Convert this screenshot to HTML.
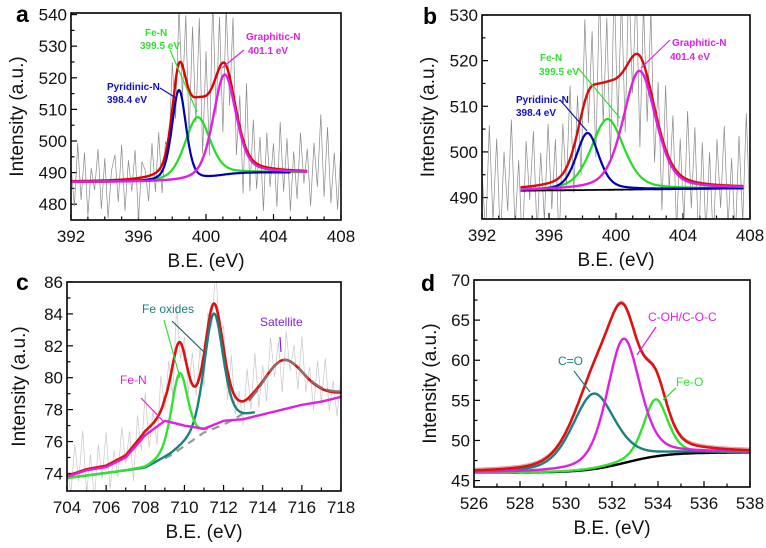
<!DOCTYPE html>
<html><head><meta charset="utf-8"><style>
body{margin:0;background:#fff}
svg{display:block;font-family:"Liberation Sans",Arial,sans-serif}
</style></head><body>
<svg id="fig" width="766" height="548" viewBox="0 0 766 548" xmlns="http://www.w3.org/2000/svg"></svg>
<script>
// ---------- data ----------
// panel a (N1s)
const aCenters=[398.4,399.5,401.1];
const aHeights=[29,20,32];
const aWidths=[1.0,1.8,1.6];
const aBase=[487,490];
const aResid=[5,-8,12,-6,9,-11,4,-3,10,-9,7,-12,3,8,-7,11,-10,6,-4,9,-13,5,2,-8,10,-6,12,-9,4,-5,15,-12,18,-10,20,-15,22,-8,25,-18,14,-20,28,-12,16,-22,19,-9,24,-14,10,-17,21,-11,13,-8,9,-14,11,-6,8,-12,15,-7,10,-13,6,-9,12,-4,7,-11,9,-5,18,-8,14,-10,6,-12,8];
// panel b (N1s)
const bCenters=[398.3,399.5,401.4];
const bHeights=[12.5,15.5,26];
const bWidths=[1.6,2.3,2.3];
const bBase=[491.5,492];
const bResid=[4,-10,14,-7,11,-12,8,-5,15,-9,6,-14,10,-3,12,-11,7,-8,13,-6,9,-15,11,-4,16,-10,8,-13,18,-7,12,-16,20,-9,14,-18,22,-11,17,-14,19,-8,15,-20,13,-10,18,-12,9,-16,14,-7,11,-13,8,-10,15,-6,12,-14,9,-11,7,-13,10,-5,13,-9,6,-12,11,-8,16,-7];
// panel c (Fe2p)
const cBaseX=[704,706,708,709.3,711,713.5,718];
const cBaseY=[73.7,74.0,74.3,75.1,76.5,77.6,78.8];
const cFeNX=[704,705,706,707,708,709,710,711,712,713,714,715,716,717,718];
const cFeNY=[73.8,74.2,74.4,75.0,76.4,77.3,77.0,76.8,77.3,77.4,77.7,78.0,78.3,78.5,78.8];
const cCenters=[709.75,711.5];
const cHeights=[4.8,7.3];
const cWidths=[1.0,1.15];
const cSat=[715.05,3.0,2.6];
const cResid=[0.5,-1.2,1.8,-0.6,2.5,-1.5,0.9,-2.0,1.4,-0.8,2.1,-1.6,0.7,-1.1,1.9,-0.5,1.2,-2.2,1.6,-0.9,2.4,-1.3,0.8,-1.7,2.2,-0.7,1.5,-1.9,2.6,-1.0,1.1,-1.4,2.0,-0.6,1.7,-2.1,0.9,-1.2,2.3,-0.8,1.4,-1.8,2.0,-1.1,0.6,-1.5,1.9,-0.9,2.4,-1.3,1.0,-1.6,2.1,-0.7,1.3,-2.0,1.8,-0.6,1.2,-1.4,2.2,-1.0,0.8,-1.7,1.6,-0.9,2.0,-1.2,0.7,-1.5,1.1];
// panel d (O1s)
const dCenters=[531.2,532.5,533.9];
const dHeights=[9.4,15.5,7.1];
const dWidths=[2.2,1.7,1.25];
const dBase=[46.0,48.5];

// ---------- helpers ----------
const svg=document.getElementById('fig');
const NS='http://www.w3.org/2000/svg';
function mk(tag,attrs,parent){const e=document.createElementNS(NS,tag);for(const k in attrs)e.setAttribute(k,attrs[k]);(parent||svg).appendChild(e);return e;}
function pv(x,c,h,w){const t=(x-c)/w;return h*(0.6*Math.exp(-4*Math.LN2*t*t)+0.4/(1+4*t*t));}
function sig(x,lo,hi,c,s){return lo+(hi-lo)/(1+Math.exp(-(x-c)/s));}
function interp(x,xs,ys){if(x<=xs[0])return ys[0];for(let i=1;i<xs.length;i++){if(x<=xs[i]){const f=(x-xs[i-1])/(xs[i]-xs[i-1]);return ys[i-1]+f*(ys[i]-ys[i-1]);}}return ys[ys.length-1];}
function makeAxes(p){p.sx=v=>p.x0+(v-p.xmin)/(p.xmax-p.xmin)*(p.x1-p.x0);p.sy=v=>p.y1-(v-p.ymin)/(p.ymax-p.ymin)*(p.y1-p.y0);}
function path(p,f,a,b,color,w,name,step){let d='';const st=step||(b-a)/300;for(let x=a;x<=b+1e-9;x+=st){d+=(d?'L':'M')+p.sx(x).toFixed(1)+','+p.sy(f(x)).toFixed(1);}
 const e=mk('path',{d:d,fill:'none',stroke:color,'stroke-width':w,'stroke-linejoin':'round','clip-path':'url(#'+p.clip+')'},p.g);
 
 return e;}
function noise(p,f,res,a,b,color,name){let d='';const n=res.length;for(let i=0;i<n;i++){const x=a+(b-a)*i/(n-1);d+=(i?'L':'M')+p.sx(x).toFixed(1)+','+p.sy(f(x)+res[i]*p.nscale).toFixed(1);}
 const e=mk('path',{d:d,fill:'none',stroke:color,'stroke-width':0.7,'clip-path':'url(#'+p.clip+')'},p.g);
 
 }
function frame(p){
 const defs=mk('defs',{});const cp=mk('clipPath',{id:p.clip},defs);mk('rect',{x:p.x0,y:p.y0,width:p.x1-p.x0,height:p.y1-p.y0},cp);
 p.g=mk('g',{});
 
 
 const ax=mk('g',{},p.g);
 
 
 for(let v=p.xmin;v<=p.xmax+1e-9;v+=p.xminor){const X=p.sx(v);const major=Math.abs(((v-p.xmin)/p.xmajor)-Math.round((v-p.xmin)/p.xmajor))<1e-6;
  mk('line',{x1:X,x2:X,y1:p.y1,y2:p.y1-(major?6:3.5),stroke:'#000','stroke-width':1.2},ax);
  if(major){const t=mk('text',{x:X,y:p.y1+22,'font-size':17,'text-anchor':'middle',fill:'#111'},ax);t.textContent=Math.round(v);
   
   }}
 for(let v=p.ytick0;v<=p.ymax+1e-9;v+=p.yminor){const Y=p.sy(v);const major=Math.abs(((v-p.ytick0)/p.ymajor)-Math.round((v-p.ytick0)/p.ymajor))<1e-6;
  mk('line',{x1:p.x0,x2:p.x0+(major?6:3.5),y1:Y,y2:Y,stroke:'#000','stroke-width':1.2},ax);
  if(major){const t=mk('text',{x:p.x0-4,y:Y+6,'font-size':17,'text-anchor':'end',fill:'#111'},ax);t.textContent=Math.round(v);
   
   }}
 const xt=mk('text',{x:(p.x0+p.x1)/2,y:p.y1+47,'font-size':19,'text-anchor':'middle',fill:'#111'},ax);xt.textContent='B.E. (eV)';
 
 
 const yt=mk('text',{x:0,y:0,'font-size':19,'text-anchor':'middle',fill:'#111',transform:'translate('+(p.x0-p.ytoff)+','+((p.y0+p.y1)/2)+') rotate(-90)'},ax);yt.textContent='Intensity (a.u.)';
 
 
 const lt=mk('text',{x:p.lx,y:p.ly,'font-size':23,'font-weight':'bold',fill:'#000'},ax);lt.textContent=p.letter;
 
 
}
function box(p){const r=mk('rect',{x:p.x0,y:p.y0,width:p.x1-p.x0,height:p.y1-p.y0,fill:'none',stroke:'#000','stroke-width':1.6},p.g);
 
 }
function label(p,x,y,txt,color,size,bold,name){const t=mk('text',{x:x,y:y,'font-size':size,'font-weight':bold?'bold':'normal',fill:color},p.g);t.textContent=txt;
 
 }
function leader(p,x1,y1,x2,y2,color,name){const l=mk('line',{x1:x1,y1:y1,x2:x2,y2:y2,stroke:color,'stroke-width':1.2},p.g);
 
 }

// ---------- panel a ----------
const A={name:'panel-a',letter:'a',clip:'ca',x0:71,x1:341,y0:13,y1:220,xmin:392,xmax:408,ymin:475,ymax:540.5,xmajor:4,xminor:1,ytick0:480,ymajor:10,yminor:5,ytoff:48,lx:16,ly:22,nscale:1};
makeAxes(A);frame(A);
{const base=x=>sig(x,aBase[0],aBase[1],400.6,0.7);
 const comp=i=>x=>base(x)+pv(x,aCenters[i],aHeights[i],aWidths[i]);
 const sum=x=>base(x)+aCenters.reduce((s,c,i)=>s+pv(x,c,aHeights[i],aWidths[i]),0);
 noise(A,sum,aResid,392,408,'#8a8a8a','raw-data-a');
 path(A,sum,392,406,'#e00000',2.4,'fit-envelope-a');
 path(A,comp(1),392,406,'#22dd22',2.2,'fe-n-peak-a');
 path(A,comp(0),392,405,'#0000b0',2.2,'pyridinic-n-peak-a');
 path(A,comp(2),392,406,'#e020e0',2.4,'graphitic-n-peak-a');
 label(A,145,36,'Fe-N','#33dd33',10,true,'fe-n-label-a');
 label(A,140,49,'399.5 eV','#33dd33',10,true,'fe-n-energy-a');
 leader(A,170,50,197,112,'#33dd33','fe-n-leader-a');
 label(A,246,40,'Graphitic-N','#e020e0',10,true,'graphitic-n-label-a');
 label(A,248,54,'401.1 eV','#e020e0',10,true,'graphitic-n-energy-a');
 leader(A,244,50,222,68,'#e020e0','graphitic-n-leader-a');
 label(A,107,90,'Pyridinic-N','#1010c0',10,true,'pyridinic-n-label-a');
 label(A,107,103,'398.4 eV','#1010c0',10,true,'pyridinic-n-energy-a');
 leader(A,160,88,176,98,'#1010c0','pyridinic-n-leader-a');}
box(A);

// ---------- panel b ----------
const B={name:'panel-b',letter:'b',clip:'cb',x0:482,x1:750,y0:15,y1:219,xmin:392,xmax:408,ymin:485.3,ymax:530,xmajor:4,xminor:1,ytick0:490,ymajor:10,yminor:5,ytoff:48,lx:423,ly:24,nscale:1};
makeAxes(B);frame(B);
{const base=x=>bBase[0]+(bBase[1]-bBase[0])*(x-394.3)/13.3;
 const comp=i=>x=>base(x)+pv(x,bCenters[i],bHeights[i],bWidths[i]);
 const sum=x=>base(x)+bCenters.reduce((s,c,i)=>s+pv(x,c,bHeights[i],bWidths[i]),0);
 noise(B,sum,bResid,392,408,'#8a8a8a','raw-data-b');
 path(B,base,394.3,407.6,'#000',1.8,'baseline-b');
 path(B,sum,394.3,407.6,'#d01010',2.4,'fit-envelope-b');
 path(B,comp(1),394.3,407.6,'#22dd22',2.2,'fe-n-peak-b');
 path(B,comp(0),394.3,407.6,'#0000b0',2.2,'pyridinic-n-peak-b');
 path(B,comp(2),394.3,407.6,'#e020e0',2.4,'graphitic-n-peak-b');
 label(B,540,61,'Fe-N','#33dd33',10,true,'fe-n-label-b');
 label(B,539,75,'399.5 eV','#33dd33',10,true,'fe-n-energy-b');
 leader(B,578,68,620,118,'#33dd33','fe-n-leader-b');
 label(B,672,46,'Graphitic-N','#e020e0',10,true,'graphitic-n-label-b');
 label(B,670,60,'401.4 eV','#e020e0',10,true,'graphitic-n-energy-b');
 leader(B,670,40,641,68,'#e020e0','graphitic-n-leader-b');
 label(B,516,103,'Pyridinic-N','#1010c0',10,true,'pyridinic-n-label-b');
 label(B,516,116,'398.4 eV','#1010c0',10,true,'pyridinic-n-energy-b');
 leader(B,560,100,587,131,'#1010c0','pyridinic-n-leader-b');}
box(B);

// ---------- panel c ----------
const C={name:'panel-c',letter:'c',clip:'cc',x0:67,x1:341,y0:282,y1:491,xmin:704,xmax:718,ymin:72.9,ymax:86,xmajor:2,xminor:1,ytick0:74,ymajor:2,yminor:1,ytoff:42,lx:16,ly:290,nscale:1};
makeAxes(C);frame(C);
{const low=x=>interp(x,cBaseX,cBaseY);
 const fen=x=>interp(x,cFeNX,cFeNY);
 const comp=i=>x=>low(x)+pv(x,cCenters[i],cHeights[i],cWidths[i]);
 const sat=x=>pv(x,cSat[0],cSat[1],cSat[2]);
 const sum=x=>Math.max(fen(x),low(x))+cCenters.reduce((s,c,i)=>s+pv(x,c,cHeights[i],cWidths[i]),0)+sat(x);
 noise(C,sum,cResid,704,718,'#c8c8c8','raw-data-c');
 path(C,x=>low(x)+sat(x)*0.6,709,713,'#999',2.2,'background-dashed-c').setAttribute('stroke-dasharray','8 6');
 path(C,sum,704,718,'#e01010',2.6,'fit-envelope-c');
 path(C,x=>low(x)+sat(x)+0.1,713.3,718,'#8a7070',2.2,'satellite-peak-c').setAttribute('stroke-dasharray','14 4');
 path(C,comp(1),704,713.6,'#1a8080',2.4,'fe-oxide-peak-2-c');
 path(C,comp(0),704,711.2,'#33e033',2.4,'fe-oxide-peak-1-c');
 path(C,fen,704,718,'#e020e0',2.4,'fe-n-component-c');
 label(C,142,313,'Fe oxides','#1a8080',12,false,'fe-oxides-label-c');
 leader(C,172,321,204,352,'#1a6060','fe-oxides-leader-teal-c');
 leader(C,164,320,180,378,'#33dd33','fe-oxides-leader-green-c');
 label(C,260,326,'Satellite','#8020e0',12,false,'satellite-label-c');
 leader(C,280,337,281,352,'#8020e0','satellite-arrow-c');
 label(C,120,384,'Fe-N','#e020e0',12,false,'fe-n-label-c');
 leader(C,141,398,163,421,'#e020e0','fe-n-leader-c');}
box(C);

// ---------- panel d ----------
const D={name:'panel-d',letter:'d',clip:'cd',x0:474,x1:750,y0:280,y1:487,xmin:526,xmax:538,ymin:44.2,ymax:70,xmajor:2,xminor:1,ytick0:45,ymajor:5,yminor:2.5,ytoff:38,lx:421,ly:291,nscale:1};
makeAxes(D);frame(D);
{const base=x=>sig(x,dBase[0],dBase[1],532.6,0.9);
 const comp=i=>x=>base(x)+pv(x,dCenters[i],dHeights[i],dWidths[i]);
 const sum=x=>base(x)+dCenters.reduce((s,c,i)=>s+pv(x,c,dHeights[i],dWidths[i]),0);
 path(D,x=>sum(x)+0.25,526,538,'#d8a0a0',1,'raw-data-d');
 path(D,base,526,538,'#000',2.4,'baseline-d');
 path(D,comp(2),526,538,'#33e033',2.4,'fe-o-peak-d');
 path(D,comp(0),526,538,'#1a8080',2.4,'c-o-double-peak-d');
 path(D,comp(1),526,538,'#e020e0',2.4,'c-oh-peak-d');
 path(D,sum,526,538,'#e01010',2.6,'fit-envelope-d');
 label(D,558,365,'C=O','#1a8080',12,false,'c-o-label-d');
 leader(D,574,371,590,392,'#1a8080','c-o-leader-d');
 label(D,648,321,'C-OH/C-O-C','#e020e0',12,false,'c-oh-label-d');
 leader(D,656,327,637,355,'#e020e0','c-oh-leader-d');
 label(D,676,386,'Fe-O','#33dd33',12,false,'fe-o-label-d');
 leader(D,676,388,663,400,'#33dd33','fe-o-leader-d');}
box(D);
</script>
</body></html>
